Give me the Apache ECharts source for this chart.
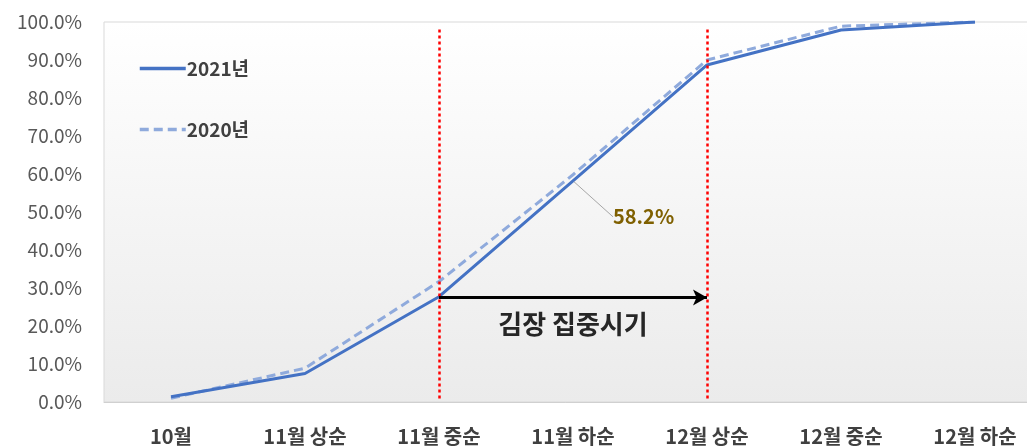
<!DOCTYPE html>
<html>
<head>
<meta charset="utf-8">
<script src="https://cdn.jsdelivr.net/npm/echarts@6/dist/echarts.min.js"></script>
<style>
  html, body { margin: 0; padding: 0; background: #fff; }
  #chart { width: 1027px; height: 447px; }
</style>
</head>
<body>
<div id="chart"></div>
<script>
// 구간
const categories = ['10월', '11월 상순', '11월 중순', '11월 하순', '12월 상순', '12월 중순', '12월 하순']
// 누적 비율 (%)
const y2021 = [1.4, 7.5, 27.7, 58.2, 88.7, 97.9, 100]
const y2020 = [1.0, 8.9, 31.7, 59.8, 90.0, 98.9, 100]
const seriesNames = ['2021년', '2020년']
// 김장 집중시기 구간
const focusStart = '11월 중순'
const focusEnd = '12월 상순'
const focusLabel = '김장 집중시기'
const labelIndex = 3

const font = "'Noto Sans CJK KR', sans-serif"
const chart = echarts.init(document.getElementById('chart'))

const option = {
  animation: false,
  textStyle: { fontFamily: font },
  grid: {
    left: 104, top: 22, bottom: 45, right: -15,
    outerBoundsMode: 'none',
    containLabel: false,
    show: true,
    borderColor: '#d9d9d9',
    borderWidth: 1,
    backgroundColor: new echarts.graphic.LinearGradient(0, 0, 0, 1, [
      { offset: 0, color: '#ffffff' },
      { offset: 1, color: '#ebebeb' }
    ])
  },
  legend: {
    orient: 'vertical',
    left: 133, top: 54,
    itemGap: 42,
    itemWidth: 46, itemHeight: 14,
    itemStyle: { opacity: 0 },
    lineStyle: { width: 3.5 },
    textStyle: { fontSize: 19, fontWeight: 'bold', color: '#404040', fontFamily: font, padding: [0, 0, 0, -4] },
    data: seriesNames
  },
  xAxis: {
    type: 'category',
    data: categories,
    boundaryGap: true,
    axisLine: { lineStyle: { color: '#d0d0d0' } },
    axisTick: { show: false },
    axisLabel: { margin: 24, fontSize: 20, fontWeight: 'bold', color: '#404040', fontFamily: font }
  },
  yAxis: {
    type: 'value',
    min: 0, max: 100, interval: 10,
    splitLine: { show: false },
    axisLine: { show: false },
    axisTick: { show: false },
    axisLabel: {
      margin: 22, fontSize: 19, color: '#595959', fontFamily: font,
      formatter: v => v.toFixed(1) + '%'
    }
  },
  series: [
    {
      name: seriesNames[0],
      type: 'line',
      z: 3,
      symbol: 'none',
      lineStyle: { color: '#4472c4', width: 3 },
      itemStyle: { color: '#4472c4' },
      data: y2021.map((v, i) => i === labelIndex ? {
        value: v,
        symbol: 'circle',
        symbolSize: 2,
        label: { show: true }
      } : v),
      label: {
        show: false,
        position: 'right',
        distance: 5,
        fontSize: 20, fontWeight: 'bold', color: '#7f6000', fontFamily: font,
        formatter: p => p.value.toFixed(1) + '%'
      },
      labelLine: { show: true, lineStyle: { color: '#a6a6a6', width: 1 } },
      labelLayout: { dx: 34, dy: 36 },
      markLine: {
        silent: true,
        symbol: 'none',
        data: [
          [
            { coord: [focusStart, 98], lineStyle: { color: '#ff0000', width: 2.5, type: [3, 3] }, label: { show: false } },
            { coord: [focusStart, 0.5] }
          ],
          [
            { coord: [focusEnd, 98], lineStyle: { color: '#ff0000', width: 2.5, type: [3, 3] }, label: { show: false } },
            { coord: [focusEnd, 0.5] }
          ],
          [
            {
              coord: [focusStart, 27.5], symbol: 'none',
              lineStyle: { color: '#000000', width: 3, type: 'solid' },
              label: {
                show: true, formatter: focusLabel, position: 'insideMiddleBottom', distance: 14,
                fontSize: 26, fontWeight: 'bold', color: '#262626', fontFamily: font
              }
            },
            { coord: [focusEnd, 27.5], symbol: 'arrow', symbolSize: [12, 14] }
          ]
        ]
      }
    },
    {
      name: seriesNames[1],
      type: 'line',
      z: 2,
      symbol: 'none',
      lineStyle: { color: '#8faadc', width: 3, type: [9, 5] },
      itemStyle: { color: '#8faadc' },
      data: y2020
    }
  ]
}

chart.setOption(option)
</script>
</body>
</html>
